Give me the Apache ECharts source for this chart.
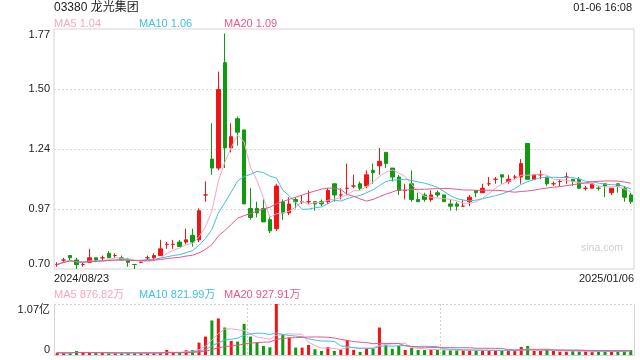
<!DOCTYPE html>
<html><head><meta charset="utf-8">
<script src="https://cdn.jsdelivr.net/npm/echarts@6/dist/echarts.min.js"></script>
<style>html,body{margin:0;padding:0;background:#fff}#c{width:640px;height:360px}</style>
</head><body><div id="c"></div>
<script>
// ---- data ----
const dates = [
'2024/08/23','2024/08/26','2024/08/27','2024/08/28','2024/08/29','2024/08/30',
'2024/09/02','2024/09/03','2024/09/04','2024/09/05','2024/09/09','2024/09/10','2024/09/11','2024/09/12','2024/09/13',
'2024/09/16','2024/09/17','2024/09/19','2024/09/20','2024/09/23','2024/09/24','2024/09/25','2024/09/26','2024/09/27','2024/09/30',
'2024/10/02','2024/10/03','2024/10/04','2024/10/07','2024/10/08','2024/10/09','2024/10/10','2024/10/14','2024/10/15','2024/10/16',
'2024/10/17','2024/10/18','2024/10/21','2024/10/22','2024/10/23','2024/10/24','2024/10/25','2024/10/28','2024/10/29','2024/10/30','2024/10/31',
'2024/11/01','2024/11/04','2024/11/05','2024/11/06','2024/11/07','2024/11/08','2024/11/11','2024/11/12','2024/11/13','2024/11/14','2024/11/15',
'2024/11/18','2024/11/19','2024/11/20','2024/11/21','2024/11/22','2024/11/25','2024/11/26','2024/11/27','2024/11/28','2024/11/29',
'2024/12/02','2024/12/03','2024/12/04','2024/12/05','2024/12/06','2024/12/09','2024/12/10','2024/12/11','2024/12/12','2024/12/13',
'2024/12/16','2024/12/17','2024/12/18','2024/12/19','2024/12/20','2024/12/23','2024/12/24','2024/12/27','2024/12/30','2024/12/31',
'2025/01/02','2025/01/03','2025/01/06'];
const open  = [0.72,0.74,0.76,0.74,0.72,0.73,0.75,0.75,0.77,0.76,0.75,0.74,0.72,0.73,0.75,0.75,0.76,0.81,0.81,0.82,
               0.82,0.85,0.83,1.03,1.19,1.15,1.62,1.24,1.37,1.32,0.97,0.97,0.97,0.92,0.88,1.00,0.95,1.01,1.00,1.00,
               1.00,1.00,1.00,1.08,1.03,1.06,1.07,1.08,1.07,1.14,1.16,1.22,1.15,1.11,1.05,1.08,1.01,1.03,1.01,1.04,
               1.03,0.99,0.99,0.98,1.00,1.05,1.04,1.08,1.10,1.12,1.09,1.11,1.11,1.26,1.10,1.12,1.11,1.08,1.09,1.11,
               1.10,1.10,1.06,1.06,1.06,1.08,1.04,1.08,1.06,1.03];
const close = [0.72,0.74,0.75,0.72,0.72,0.75,0.74,0.75,0.75,0.76,0.74,0.73,0.72,0.73,0.75,0.76,0.79,0.81,0.81,0.80,
               0.83,0.82,0.96,1.03,1.15,1.50,1.24,1.29,1.31,0.99,0.93,0.95,0.91,0.87,1.07,0.95,0.99,1.00,1.00,1.00,
               0.99,0.99,1.05,1.03,1.03,1.06,1.07,1.06,1.12,1.13,1.18,1.17,1.11,1.05,1.05,1.01,1.00,1.01,1.03,1.03,
               1.00,0.98,0.98,0.98,1.02,1.04,1.06,1.08,1.10,1.11,1.10,1.11,1.17,1.10,1.12,1.12,1.08,1.08,1.09,1.11,
               1.09,1.06,1.06,1.08,1.06,1.07,1.06,1.07,1.02,1.00];
const low   = [0.71,0.73,0.74,0.70,0.71,0.73,0.73,0.74,0.75,0.75,0.74,0.71,0.70,0.73,0.74,0.74,0.76,0.79,0.79,0.80,
               0.81,0.80,0.82,1.00,1.12,1.14,1.15,1.22,1.25,0.99,0.92,0.93,0.91,0.86,0.87,0.92,0.94,0.97,0.99,0.99,
               0.96,0.98,0.99,1.00,1.01,1.03,1.06,1.05,1.06,1.08,1.12,1.15,1.09,1.03,1.01,1.00,1.00,1.00,1.00,1.02,
               1.00,0.96,0.96,0.98,0.98,1.02,1.04,1.07,1.08,1.08,1.08,1.10,1.08,1.10,1.10,1.10,1.07,1.07,1.07,1.08,
               1.07,1.06,1.05,1.06,1.05,1.02,1.03,1.04,1.00,0.99];
const high  = [0.73,0.75,0.76,0.75,0.73,0.79,0.75,0.76,0.78,0.77,0.76,0.75,0.72,0.74,0.76,0.77,0.83,0.82,0.83,0.83,
               0.88,0.88,0.97,1.09,1.35,1.58,1.75,1.35,1.38,1.32,1.06,1.00,1.01,0.94,1.08,1.01,1.02,1.02,1.03,1.05,
               1.00,1.01,1.06,1.08,1.06,1.17,1.12,1.09,1.14,1.17,1.24,1.22,1.15,1.12,1.08,1.14,1.04,1.04,1.05,1.05,
               1.03,1.01,1.00,1.01,1.03,1.05,1.08,1.11,1.11,1.12,1.12,1.12,1.19,1.26,1.12,1.14,1.11,1.09,1.10,1.13,
               1.10,1.11,1.07,1.08,1.07,1.08,1.06,1.08,1.07,1.04];
// volume in 万股
const volume = [490,420,420,850,420,420,420,420,420,420,420,420,420,420,420,420,490,1060,490,420,
                990,1060,2600,3870,7250,7670,5770,2960,2820,6550,3870,2600,1900,1620,10700,4360,3660,1550,1550,2110,
                1200,850,1690,850,1130,3170,1060,630,1340,1340,5770,2040,1270,1900,1060,1480,1060,1060,1060,1060,
                1060,990,990,990,990,990,990,920,920,920,850,850,1690,1900,850,850,1100,850,700,700,
                850,800,800,600,786,900,700,850,900,1034];
const yTickLabels = ['0.70','0.97','1.24','1.50','1.77'];
const volTickLabels = ['0','1.07亿'];
const yMin = 0.70, yMax = 1.77, volMax = 10700;

const UP = '#f01414', DOWN = '#0f9a0f';
const C_MA5 = '#f7a6c4', C_MA10 = '#3fc1e0', C_MA20 = '#e9578b';

const N = dates.length;
const candleData = dates.map((d, i) => [open[i], close[i], low[i], high[i]]);
function sign(i) {
  if (close[i] > open[i]) return 1;
  if (close[i] < open[i]) return -1;
  return (i > 0 && close[i - 1] > close[i]) ? -1 : 1;
}
const volData = volume.map((v, i) => ({ value: v, itemStyle: { color: sign(i) > 0 ? UP : DOWN } }));
function ma(arr, n) {
  return arr.map((v, i) => {
    const s = Math.max(0, i - n + 1);
    let sum = 0;
    for (let k = s; k <= i; k++) sum += arr[k];
    return +(sum / (i - s + 1)).toFixed(4);
  });
}
const yTicks = yTickLabels.map((t, k) => k === yTickLabels.length - 1 ? yMax : Math.round((yMin + (yMax - yMin) * k / (yTickLabels.length - 1)) * 1e6) / 1e6);

const FONT = 'Arial, "Liberation Sans", "Noto Sans CJK SC", sans-serif';
function txt(text, left, top, color, size) {
  return { text, left, top, padding: 0, textStyle: { color, fontSize: size, fontWeight: 'normal', fontFamily: FONT } };
}
const chart = echarts.init(document.getElementById('c'), null, { renderer: 'canvas' });
const lineBase = { type: 'line', symbol: 'none', smooth: false, z: 5, silent: true };
chart.setOption({
  animation: false,
  backgroundColor: '#fff',
  title: [
    txt('03380 龙光集团', 54, 1.5, '#222', 12),
    { text: '01-06 16:08', right: 8, top: 2, padding: 0, textStyle: { color: '#222', fontSize: 11, fontWeight: 'normal', fontFamily: FONT } },
    txt('MA5 1.04', 54, 18.5, C_MA5, 11),
    txt('MA10 1.06', 139, 18.5, C_MA10, 11),
    txt('MA20 1.09', 224, 18.5, C_MA20, 11),
    txt('MA5 876.82万', 54, 289.5, C_MA5, 11),
    txt('MA10 821.99万', 139, 289.5, C_MA10, 11),
    txt('MA20 927.91万', 224, 289.5, C_MA20, 11)
  ],
  graphic: [{ type: 'text', right: 17, top: 243, silent: true,
    style: { text: 'sina.com', fill: '#cfcfcf', font: '10.5px ' + FONT } }],
  grid: [
    { left: 54, right: 6, top: 29, height: 240, show: true, borderColor: '#d4d4d4', borderWidth: 1, backgroundColor: 'transparent' },
    { left: 54, right: 6, top: 304, height: 51, show: false }
  ],
  xAxis: [
    { type: 'category', gridIndex: 0, data: dates, boundaryGap: true,
      axisLine: { show: false }, axisTick: { show: false }, axisLabel: { show: false }, splitLine: { show: false } },
    { type: 'category', gridIndex: 0, data: dates, boundaryGap: false, position: 'bottom',
      axisLine: { show: false }, axisTick: { show: false }, splitLine: { show: false },
      axisLabel: { show: true, interval: (i) => i === 0 || i === N - 1, color: '#222', fontSize: 11, fontFamily: FONT,
        margin: 4, alignMinLabel: 'left', alignMaxLabel: 'right', hideOverlap: false } },
    { type: 'category', gridIndex: 1, data: dates, boundaryGap: true,
      axisLine: { show: true, lineStyle: { color: '#d4d4d4' } }, axisTick: { show: false }, axisLabel: { show: false },
      splitLine: { show: true, interval: 29, lineStyle: { color: '#d0d0d0', type: [2, 2] } } }
  ],
  yAxis: [
    { type: 'value', gridIndex: 0, min: yMin, max: yMax, scale: true,
      axisLine: { show: false },
      axisTick: { show: false, customValues: yTicks },
      axisLabel: { customValues: yTicks, color: '#222', fontSize: 11, fontFamily: FONT, margin: 4,
        verticalAlignMinLabel: 'bottom', verticalAlignMaxLabel: 'top',
        formatter: (v) => { const k = yTicks.findIndex(t => Math.abs(t - v) < 1e-6); return k >= 0 ? yTickLabels[k] : ''; } },
      splitLine: { show: true, showMinLine: false, showMaxLine: false, lineStyle: { color: '#d8d8d8', type: [2, 2] } } },
    { type: 'value', gridIndex: 1, min: 0, max: volMax, interval: volMax,
      axisLine: { show: true, lineStyle: { color: '#d4d4d4' } }, axisTick: { show: false },
      axisLabel: { color: '#222', fontSize: 11, fontFamily: FONT, margin: 4,
        verticalAlignMinLabel: 'bottom', verticalAlignMaxLabel: 'top',
        formatter: (v) => v === 0 ? volTickLabels[0] : volTickLabels[1] },
      splitLine: { show: true, showMinLine: false, lineStyle: { color: '#d0d0d0', type: [2, 2] } } },
    { type: 'value', gridIndex: 1, min: 0, max: volMax, position: 'right',
      axisLine: { show: true, lineStyle: { color: '#d4d4d4' } }, axisTick: { show: false }, axisLabel: { show: false }, splitLine: { show: false } }
  ],
  series: [
    { type: 'candlestick', xAxisIndex: 0, yAxisIndex: 0, data: candleData, barWidth: 4, silent: true,
      itemStyle: { color: UP, color0: DOWN, borderColor: UP, borderColor0: DOWN, borderWidth: 1 } },
    Object.assign({}, lineBase, { name: 'MA5', xAxisIndex: 0, yAxisIndex: 0, data: ma(close, 5), lineStyle: { color: C_MA5, width: 1 } }),
    Object.assign({}, lineBase, { name: 'MA10', xAxisIndex: 0, yAxisIndex: 0, data: ma(close, 10), lineStyle: { color: C_MA10, width: 1 } }),
    Object.assign({}, lineBase, { name: 'MA20', xAxisIndex: 0, yAxisIndex: 0, data: ma(close, 20), lineStyle: { color: C_MA20, width: 1 } }),
    { type: 'bar', xAxisIndex: 2, yAxisIndex: 1, data: volData, barWidth: 3, silent: true },
    Object.assign({}, lineBase, { name: 'VMA5', xAxisIndex: 2, yAxisIndex: 1, data: ma(volume, 5), lineStyle: { color: C_MA5, width: 1 } }),
    Object.assign({}, lineBase, { name: 'VMA10', xAxisIndex: 2, yAxisIndex: 1, data: ma(volume, 10), lineStyle: { color: C_MA10, width: 1 } }),
    Object.assign({}, lineBase, { name: 'VMA20', xAxisIndex: 2, yAxisIndex: 1, data: ma(volume, 20), lineStyle: { color: C_MA20, width: 1 } })
  ]
});
</script></body></html>
